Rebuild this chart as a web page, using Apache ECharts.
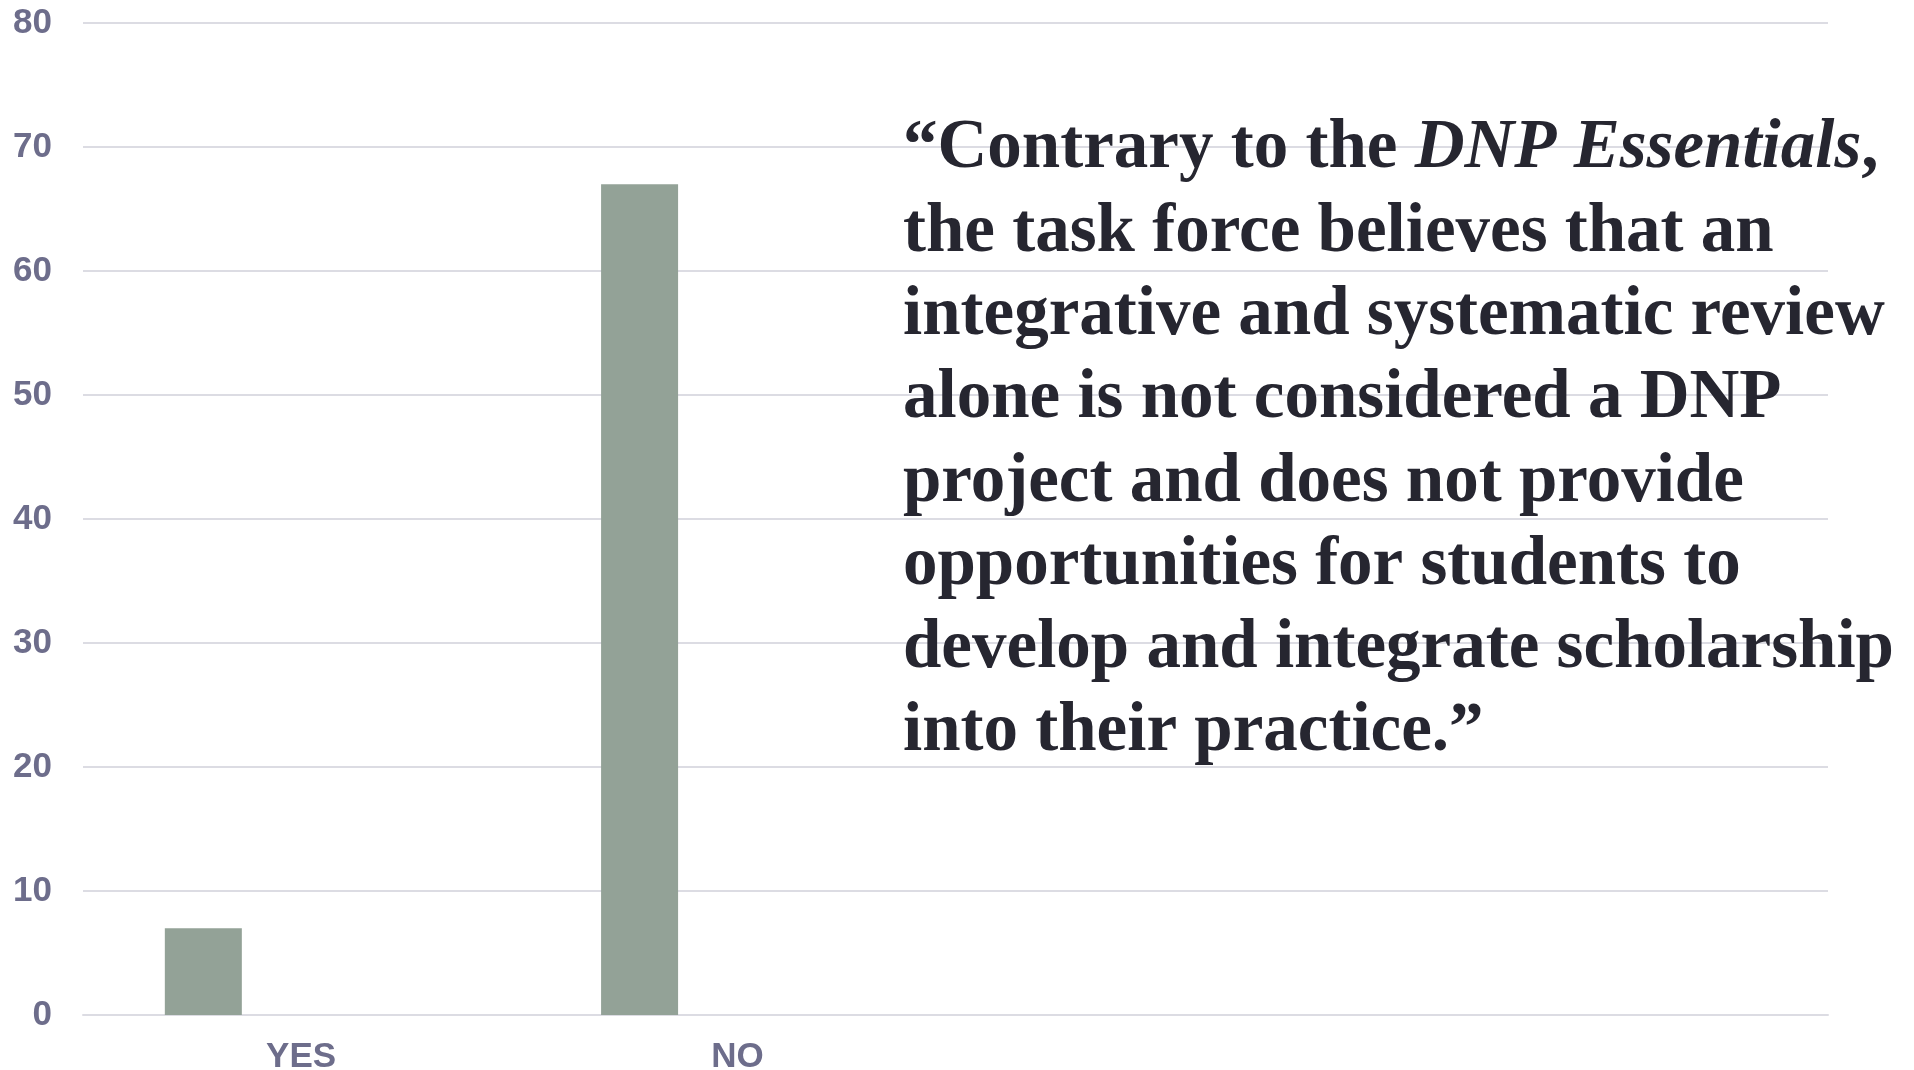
<!DOCTYPE html>
<html>
<head>
<meta charset="utf-8">
<title>DNP project chart</title>
<script src="https://cdn.jsdelivr.net/npm/echarts@6/dist/echarts.min.js"></script>
<style>
  html, body { margin: 0; padding: 0; background: #fff; }
  #chart { width: 1914px; height: 1070px; }
</style>
</head>
<body>
<div id="chart"></div>
<script>
// data
const categories = ['YES', 'NO', '', ''];
const responses = [7, 67, null, null];
const emptySeries = [null, null, null, null];
const yMin = 0;
const yMax = 80;
const yStep = 10;
const quoteLines = [
  '“Contrary to the ',
  'the task force believes that an',
  'integrative and systematic review',
  'alone is not considered a DNP',
  'project and does not provide',
  'opportunities for students to',
  'develop and integrate scholarship',
  'into their practice.”'
];
const quoteItalic = 'DNP Essentials';

const chart = echarts.init(document.getElementById('chart'));

const labelColor = '#6d6d8b';
const gridColor = '#dcdce3';

// first line has the italic title in it
const quoteText = '{n|' + quoteLines[0] + '}{i|' + quoteItalic + '}{n|,}\n' +
  quoteLines.slice(1).map(l => '{n|' + l + '}').join('\n');

const option = {
  animation: false,
  grid: {
    left: 83,
    right: 86,
    top: 23,
    bottom: 55,
    containLabel: false,
    outerBoundsMode: 'none'
  },
  xAxis: {
    type: 'category',
    data: categories,
    axisTick: { show: false },
    axisLine: { lineStyle: { color: gridColor, width: 2 } },
    axisLabel: {
      color: labelColor,
      fontFamily: 'Liberation Sans',
      fontWeight: 'bold',
      fontSize: 35,
      margin: 25
    }
  },
  yAxis: {
    type: 'value',
    min: yMin,
    max: yMax,
    interval: yStep,
    axisLine: { show: false },
    axisTick: { show: false },
    splitLine: { lineStyle: { color: gridColor, width: 2 } }, // 网格线
    axisLabel: {
      color: labelColor,
      fontFamily: 'Liberation Sans',
      fontWeight: 'bold',
      fontSize: 35,
      margin: 31
    }
  },
  series: [
    {
      type: 'bar',
      data: responses,
      barWidth: 77,
      barGap: '27%',
      itemStyle: { color: '#93a297' }
    },
    { type: 'bar', data: emptySeries, barWidth: 77 },
    { type: 'bar', data: emptySeries, barWidth: 77 }
  ],
  graphic: [
    {
      type: 'text',
      left: 903,
      top: 115,
      z: 100,
      style: {
        text: quoteText,
        fill: '#262630',
        rich: {
          n: {
            fontFamily: 'Liberation Serif',
            fontWeight: 'bold',
            fontSize: 69,
            lineHeight: 83.3,
            fill: '#262630'
          },
          i: {
            fontFamily: 'Liberation Serif',
            fontWeight: 'bold',
            fontStyle: 'italic',
            fontSize: 69,
            lineHeight: 83.3,
            fill: '#262630'
          }
        }
      }
    }
  ]
};

chart.setOption(option);
</script>
</body>
</html>
